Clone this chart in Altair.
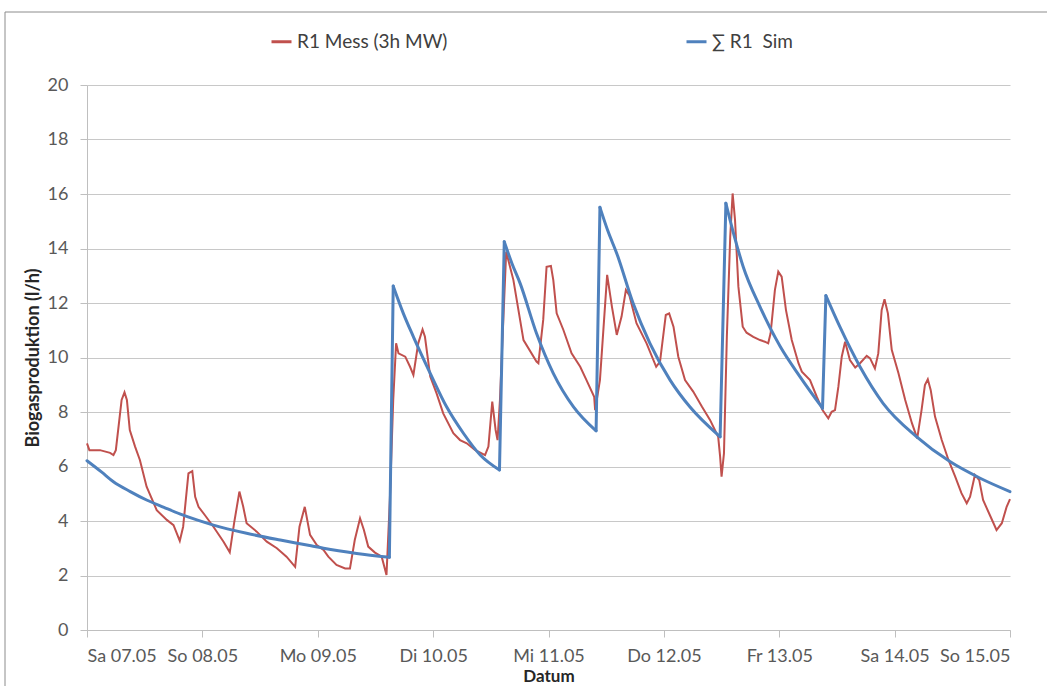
import altair as alt
import pandas as pd

# Day ticks on the x axis (hours since Sa 07.05 00:00)
day_labels = ["Sa 07.05", "So 08.05", "Mo 09.05", "Di 10.05", "Mi 11.05",
              "Do 12.05", "Fr 13.05", "Sa 14.05", "So 15.05"]
day_hours = [0, 24, 48, 72, 96, 120, 144, 168, 192]

series_names = ["R1 Mess (3h MW)", "∑ R1\u00a0\u00a0Sim"]
series_colors = ["#C0504D", "#4F81BD"]

# Measured biogas production, 3h moving average (l/h)
mess_hours = [
    0, 0.5, 2.7, 4.8, 5.5, 6.0, 7.2, 7.8, 8.3, 8.9, 10.0, 11.0, 12.4, 14.5,
    16.6, 18.0, 19.3, 20.0, 21.1, 21.9, 22.5, 23.2,
    24.5, 26.3, 28.4, 29.7, 30.6, 31.7, 32.5, 33.2, 35.3, 37.4, 39.5, 41.5,
    43.3, 44.2, 45.3, 46.4, 47.8,
    49.2, 50.2, 51.9, 53.7, 54.7, 55.7, 56.8, 57.6, 58.5, 59.9, 61.3, 62.3,
    63.0, 63.7, 64.3, 64.8, 66.2, 67.2, 67.9, 68.9, 69.8, 70.3, 71.4,
    72.7, 74.1, 76.2, 77.6, 79.0, 80.7, 82.8, 83.5, 84.3, 85.0, 85.4, 85.9,
    87.2, 88.7, 90.8, 93.5, 93.9, 94.9,
    95.6, 96.5, 97.0, 97.7, 99.1, 100.8, 102.6, 103.9, 105.5, 105.7, 106.7,
    108.2, 109.2, 110.2, 111.2, 112.1, 112.8, 114.3, 116.4, 118.4, 119.2,
    120.4, 121.1, 122.0, 123.0, 124.4, 126.1, 127.9, 129.6, 131.3, 131.7,
    132.0, 132.5, 133.1, 133.8, 134.3, 134.8, 135.5, 136.4, 137.2, 138.6,
    140.0, 141.0, 141.7, 142.2, 143.1, 143.8,
    144.5, 145.4, 146.6, 148.0, 148.7, 150.4, 151.8, 153.0, 154.2, 154.9,
    155.6, 156.3, 157.0, 157.7, 158.7, 159.8, 160.8, 162.2, 162.9, 163.9,
    164.6, 165.3, 165.9, 166.6, 167.4,
    168.8, 170.2, 171.6, 172.7, 173.6, 174.3, 174.9, 175.5, 176.4, 177.8,
    179.2, 180.6, 181.9, 183.0, 183.7, 184.7, 185.6, 186.4, 187.8, 189.2,
    190.3, 191.3, 192.0,
]
mess_values = [
    6.85, 6.6, 6.6, 6.5, 6.42, 6.6, 8.44, 8.72, 8.44, 7.34, 6.73, 6.24, 5.26, 4.40,
    4.04, 3.85, 3.27, 3.79, 5.75, 5.83, 4.89, 4.52,
    4.22, 3.79, 3.24, 2.85, 3.92, 5.08, 4.52, 3.92, 3.61, 3.24, 3.0, 2.69,
    2.32, 3.79, 4.52, 3.49, 3.12,
    2.94, 2.69, 2.39, 2.26, 2.26, 3.30, 4.10, 3.67, 3.06, 2.84, 2.69, 2.02,
    4.77, 8.44, 10.52, 10.15, 10.03, 9.66, 9.36, 10.52, 11.03, 10.76, 9.30,
    8.69, 7.95, 7.22, 6.97, 6.85, 6.61, 6.42, 6.73, 8.38, 7.34, 6.97, 8.44,
    13.88, 12.84, 10.64, 9.85, 9.79, 11.38,
    13.33, 13.36, 12.84, 11.62, 11.01, 10.15, 9.66, 9.17, 8.56, 8.07, 9.17,
    13.03, 11.86, 10.83, 11.50, 12.48, 12.29, 11.26, 10.52, 9.66, 9.85,
    11.56, 11.62, 11.13, 10.03, 9.17, 8.75, 8.20, 7.71, 7.09, 6.36,
    5.63, 6.48, 10.76, 14.43, 16.02, 15.05, 12.6, 11.13, 10.91, 10.76,
    10.64, 10.58, 10.52, 10.89, 12.48, 13.15,
    12.97, 11.74, 10.64, 9.79, 9.48, 9.17, 8.56, 8.07, 7.77, 8.01,
    8.07, 8.93, 10.03, 10.58, 9.91, 9.63, 9.79, 10.06, 9.97, 9.60,
    10.15, 11.74, 12.14, 11.62, 10.28,
    9.42, 8.44, 7.59, 7.03, 8.07, 8.99, 9.20, 8.81, 7.83, 6.97,
    6.24, 5.63, 5.02, 4.65, 4.89, 5.69, 5.50, 4.77, 4.22, 3.67,
    3.92, 4.52, 4.80,
]

# Simulated biogas production (l/h)
sim_hours = [
    0, 3.0, 5.5, 9.0, 12.4, 16.0, 19.3, 23.0, 26.3, 33.2, 40.2, 46.6, 49.2, 56.1, 62.9,
    63.7, 65.8, 67.9, 71.4, 74.8, 78.3, 81.8, 85.8,
    86.8, 88.4, 90.1, 93.5, 97.0, 101.2, 105.9,
    106.7, 108.4, 110.2, 113.6, 117.1, 121.3, 125.4, 131.7,
    132.9, 134.7, 136.5, 140.0, 144.2, 148.3, 153.0,
    153.7, 156.6, 160.8, 165.6, 172.6, 179.5, 185.8, 192.0,
]
sim_values = [
    6.21, 5.80, 5.44, 5.08, 4.77, 4.50, 4.26, 4.03, 3.85, 3.55, 3.30, 3.09, 3.0, 2.81, 2.67,
    12.62, 11.62, 10.76, 9.42, 8.19, 7.22, 6.42, 5.87,
    14.25, 13.45, 12.72, 10.89, 9.42, 8.19, 7.31,
    15.51, 14.62, 13.82, 11.99, 10.52, 9.17, 8.19, 7.09,
    15.66, 14.42, 13.33, 11.86, 10.40, 9.30, 8.14,
    12.27, 11.13, 9.66, 8.32, 7.09, 6.18, 5.57, 5.08,
]

mess_df = pd.DataFrame({"h": mess_hours, "v": mess_values, "s": series_names[0]})

# Split the simulation into decay phases (a new phase starts at every feed jump)
seg_ids = []
seg = 0
for i, v in enumerate(sim_values):
    if i > 0 and v > sim_values[i - 1]:
        seg += 1
    seg_ids.append(seg)
sim_df = pd.DataFrame({"h": sim_hours, "v": sim_values, "s": series_names[1], "seg": seg_ids})

# Feed jumps: last point of one phase joined to first point of the next
jump_rows = []
for i in range(1, len(sim_values)):
    if seg_ids[i] != seg_ids[i - 1]:
        for j in (i - 1, i):
            jump_rows.append({"h": sim_hours[j], "v": sim_values[j],
                              "s": series_names[1], "jump": seg_ids[i]})
jump_df = pd.DataFrame(jump_rows)

label_expr = "[" + ",".join('"%s"' % t for t in day_labels) + "][round(datum.value / 24)]"

x_enc = alt.X(
    "h:Q",
    scale=alt.Scale(domain=[0, 192], nice=False, zero=False),
    axis=alt.Axis(
        values=day_hours, labelExpr=label_expr, title="Datum", grid=False,
        tickSize=7, labelPadding=10, titlePadding=3, labelFontSize=18,
        titleFontSize=17,
    ),
)
y_enc = alt.Y(
    "v:Q",
    scale=alt.Scale(domain=[0, 20], nice=False),
    axis=alt.Axis(
        values=list(range(0, 21, 2)), title="Biogasproduktion (l/h)",
        tickSize=7, labelPadding=12, titlePadding=5,
    ),
)
color_enc = alt.Color(
    "s:N",
    scale=alt.Scale(domain=series_names, range=series_colors),
    sort=series_names,
    legend=alt.Legend(
        title=None, orient="none", direction="horizontal",
        legendX=183, legendY=-55, symbolType="stroke", symbolSize=400,
        symbolStrokeWidth=3, columnPadding=232, labelLimit=0,
    ),
)

mess_line = alt.Chart(mess_df).mark_line(strokeWidth=2).encode(
    x=x_enc, y=y_enc, color=color_enc
)
sim_decay = alt.Chart(sim_df).mark_line(
    strokeWidth=3, interpolate="monotone", strokeCap="round"
).encode(x=x_enc, y=y_enc, color=color_enc, detail="seg:N")
sim_jump = alt.Chart(jump_df).mark_line(
    strokeWidth=3, strokeCap="round", strokeJoin="round"
).encode(x=x_enc, y=y_enc, color=color_enc, detail="jump:N")

# Outer chart frame (left and top edges)
frame_src = alt.Chart(pd.DataFrame({"k": [0]}))
frame_left = frame_src.mark_rule(color="#8C8C8C", strokeWidth=1).encode(
    x=alt.value(-82), y=alt.value(-73), y2=alt.value(610)
)
frame_top = frame_src.mark_rule(color="#8C8C8C", strokeWidth=1).encode(
    x=alt.value(-82), x2=alt.value(970), y=alt.value(-73)
)

chart = (
    alt.layer(frame_left, frame_top, mess_line, sim_decay, sim_jump)
    .properties(
        width=923, height=545,
        autosize=alt.AutoSizeParams(type="none"),
        padding={"left": 87, "top": 85, "right": 37, "bottom": 56},
        background="white",
    )
    .configure_view(stroke=None)
    .configure_axis(
        labelFont="Lato", labelFontSize=18, labelColor="#595959",
        titleFont="Lato", titleFontSize=18, titleFontWeight="bold", titleColor="#262626",
        domainColor="#BFBFBF", tickColor="#BFBFBF", gridColor="#C8C8C8",
    )
    .configure_legend(labelFont="Lato", labelFontSize=19, labelColor="#404040")
)

chart.save("out.html", embed_options={"renderer": "svg", "actions": False})
